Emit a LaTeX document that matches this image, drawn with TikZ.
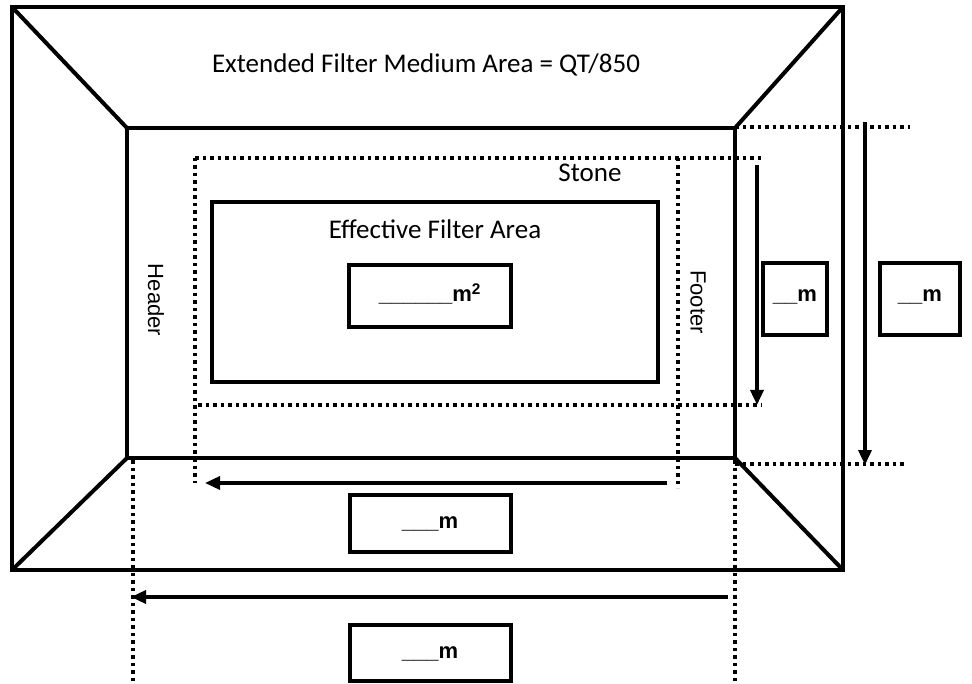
\documentclass[tikz,border=0pt]{standalone}
\usepackage{fontspec}
\setmainfont{Carlito}
\newfontfamily\arialfont{Liberation Sans}
\usetikzlibrary{arrows.meta}

\tikzset{
  dots/.style={line width=3.5pt, dash pattern=on 3.5pt off 4pt},
  dimarrow/.style={line width=3.5pt, -{Triangle[length=15pt,width=13pt]}},
  lbl/.style={font=\fontsize{27}{30}\selectfont, inner sep=0pt},
  sidelbl/.style={font=\arialfont\fontsize{22}{26}\selectfont, inner sep=0pt, rotate=-90},
  boxlbl/.style={font=\arialfont\bfseries\fontsize{22}{26}\selectfont, inner sep=0pt}
}

\begin{document}
\begin{tikzpicture}[x=1pt,y=-1pt,line width=4pt]
\useasboundingbox (0,0) rectangle (972,684);

% outer and inner frame
\draw (12,7) rectangle (843,570);
\draw (127,128) rectangle (735,458);
\draw (12,7) -- (127,128);
\draw (843,7) -- (735,128);
\draw (12,570) -- (127,458);
\draw (843,570) -- (735,458);
\node[lbl] (extarea) at (426,65) {Extended Filter Medium Area = QT/850};

% stone outline
\draw[dots] (195,158) -- (762,158);
\draw[dots] (195,158) -- (195,483);
\draw[dots] (678,158) -- (678,488);
\draw[dots] (198,405) -- (762,405);
\node[lbl] (stone) at (590,173) {Stone};

% effective filter area
\draw (212,202) rectangle (658,382);
\node[lbl] (effarea) at (435,229) {Effective Filter Area};
\draw (349,265) rectangle (511,327);
\node[boxlbl] (areabox) at (430,294) {\_\_\_\_\_\_m\textsuperscript{2}};

\node[sidelbl] (header) at (156,300) {Header};
\node[sidelbl] (footer) at (698,302) {Footer};

% width dimensions (right)
\draw[dimarrow] (757,165) -- (757,405);
\draw (763,263) rectangle (827,335);
\node[boxlbl] (stonew) at (795,297) {\_\_m};
\draw[dots] (735,127) -- (910,127);
\draw[dots] (735,464) -- (905,464);
\draw[dimarrow] (865,122) -- (865,465);
\draw (880,263) rectangle (960,335);
\node[boxlbl] (framew) at (920,297) {\_\_m};

% length dimensions (bottom)
\draw[dimarrow] (667,483) -- (205,483);
\draw (350,495) rectangle (511,552);
\node[boxlbl] (stonel) at (430,524) {\_\_\_m};
\draw[dots] (133,460) -- (133,684);
\draw[dots] (735,460) -- (735,684);
\draw[dimarrow] (728,597) -- (131,597);
\draw (350,625) rectangle (511,681);
\node[boxlbl] (framel) at (430,654) {\_\_\_m};
\end{tikzpicture}
\end{document}
